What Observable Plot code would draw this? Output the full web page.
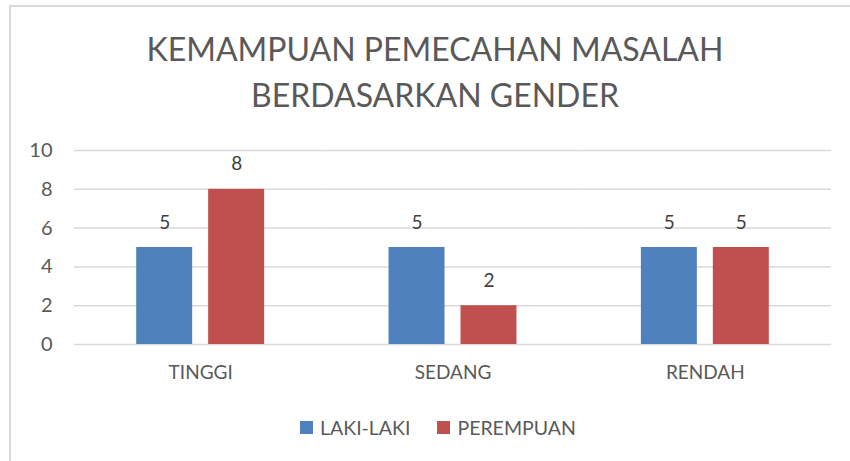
<!DOCTYPE html>
<html>
<head>
<meta charset="utf-8">
<script src="https://cdn.jsdelivr.net/npm/d3@7"></script>
<script src="https://cdn.jsdelivr.net/npm/@observablehq/plot@0.6"></script>
<style>
  html, body { margin: 0; padding: 0; background: #fff; width: 850px; height: 461px; overflow: hidden; }
  body { position: relative; font-family: Lato, "Open Sans", sans-serif; color: #595959; }
  #frame { position: absolute; left: 9px; top: 5px; width: 900px; height: 500px; border-left: 2px solid #d9d9d9; border-top: 2px solid #d9d9d9; box-sizing: border-box; }
  #title { position: absolute; left: 0; top: 26px; width: 870px; text-align: center; font-size: 32px; line-height: 46px; color: #595959; }
  #chart { position: absolute; left: 0; top: 120px; }
  #legend { position: absolute; left: 300px; top: 416px; display: flex; align-items: center; font-size: 19.5px; color: #595959; }
  .item { display: flex; align-items: center; margin-right: 27px; }
  .swatch { width: 13px; height: 13px; margin-right: 7px; }
</style>
</head>
<body>
<div id="frame"></div>
<div id="title"></div>
<div id="chart"></div>
<div id="legend"></div>
<script>
const titleLines = ["KEMAMPUAN PEMECAHAN MASALAH", "BERDASARKAN GENDER"];
const categories = ["TINGGI", "SEDANG", "RENDAH"];
const series = ["LAKI-LAKI", "PEREMPUAN"];
const lakiLaki = [5, 5, 5];
const perempuan = [8, 2, 5];
const yTicks = [0, 2, 4, 6, 8, 10];
const colors = ["#4F81BD", "#C0504D"];

const data = categories.flatMap((c, i) => [
  {category: c, series: series[0], value: lakiLaki[i]},
  {category: c, series: series[1], value: perempuan[i]}
]);

document.getElementById("title").innerHTML = titleLines.join("<br>");

const chart = Plot.plot({
  width: 850,
  height: 280,
  marginLeft: 74,
  marginRight: 19,
  marginTop: 30,
  marginBottom: 56,
  style: {fontFamily: "Lato, 'Open Sans', sans-serif", fontSize: "19px", color: "#595959", background: "transparent", overflow: "visible"},
  facet: {data: data, x: "category", label: null},
  fx: {domain: categories, padding: 0, round: false, axis: "bottom", label: null, tickSize: 0, tickPadding: 21},
  x: {domain: series, axis: null, paddingInner: 0.2222, paddingOuter: 0.8646, round: false},
  y: {domain: [0, 10], ticks: yTicks, tickSize: 0, tickPadding: 22, label: null},
  color: {domain: series, range: colors},
  marks: [
    Plot.ruleY(yTicks, {stroke: "#d9d9d9", strokeWidth: 1.5, facet: false}),
    Plot.barY(data, {x: "series", y: "value", fill: "series"}),
    Plot.text(data, {x: "series", y: "value", text: d => String(d.value), dy: -19, lineAnchor: "bottom", fill: "#404040", fontSize: 19})
  ]
});
chart.querySelectorAll("g[aria-label='y-axis tick label'] text, g[aria-label='y-axis tick label']").forEach(el => el.setAttribute("font-size", "20"));
document.getElementById("chart").appendChild(chart);

const legend = document.getElementById("legend");
series.forEach((s, i) => {
  const item = document.createElement("div");
  item.className = "item";
  const sw = document.createElement("div");
  sw.className = "swatch";
  sw.style.background = colors[i];
  const label = document.createElement("span");
  label.textContent = s;
  item.appendChild(sw);
  item.appendChild(label);
  legend.appendChild(item);
});
</script>
</body>
</html>
